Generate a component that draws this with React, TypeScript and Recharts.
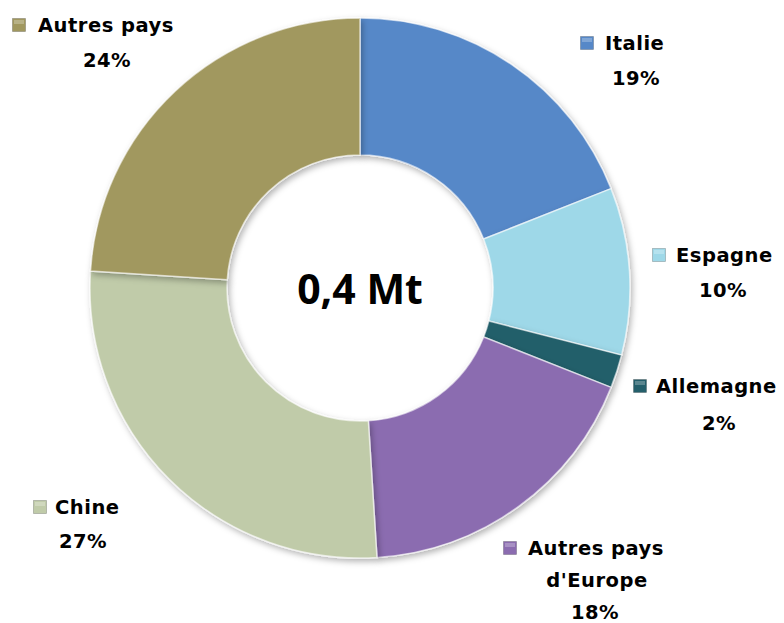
import React from "react";
import { PieChart, Pie, Cell } from "recharts";

const categories = ["Italie", "Espagne", "Allemagne", "Autres pays d'Europe", "Chine", "Autres pays"];
const shares = [19, 10, 2, 18, 27, 24];
const pctLabels = ["19%", "10%", "2%", "18%", "27%", "24%"];
const centerLabel = "0,4 Mt";

const COLORS = ["#5688C8", "#9ED8E8", "#245F6B", "#8B6CB0", "#C0CBA9", "#A1985F"];

const data = categories.map((name, i) => ({ name, value: shares[i] }));

// label layout relative to pie centre: marker centre, name start, extra lines (centre x, y)
const LABEL_LAYOUT = [
  { mx: 227, my: -245, tx: 245, lines: [{ x: 276, y: -210 }], nameLines: ["Italie"] },
  { mx: 299, my: -33, tx: 316, lines: [{ x: 363, y: 2 }], nameLines: ["Espagne"] },
  { mx: 280, my: 98, tx: 296, lines: [{ x: 359, y: 135 }], nameLines: ["Allemagne"] },
  { mx: 150, my: 260, tx: 168, lines: [{ x: 237, y: 292 }, { x: 235, y: 324 }], nameLines: ["Autres pays", "d'Europe"] },
  { mx: -320, my: 219, tx: -305, lines: [{ x: -277, y: 253 }], nameLines: ["Chine"] },
  { mx: -341, my: -263, tx: -322, lines: [{ x: -253, y: -228 }], nameLines: ["Autres pays"] },
];

const FONT = "'DejaVu Sans', sans-serif";

const renderLabel = (props: any) => {
  const { cx, cy, index } = props;
  const L = LABEL_LAYOUT[index];
  const color = COLORS[index];
  const texts: { x: number; y: number; s: string; anchor: string }[] = [];
  texts.push({ x: cx + L.tx, y: cy + L.my, s: L.nameLines[0], anchor: "start" });
  const rest = [...L.nameLines.slice(1), pctLabels[index]];
  rest.forEach((s, k) => {
    texts.push({ x: cx + L.lines[k].x, y: cy + L.lines[k].y, s, anchor: "middle" });
  });
  return (
    <g key={`lbl-${index}`}>
      <rect
        x={cx + L.mx - 6.5}
        y={cy + L.my - 6.5}
        width={13}
        height={13}
        fill={color}
        stroke="rgba(0,0,0,0.25)"
        strokeWidth={0.8}
      />
      <rect
        x={cx + L.mx - 5}
        y={cy + L.my - 5}
        width={10}
        height={4}
        fill="rgba(255,255,255,0.25)"
      />
      {texts.map((t, k) => (
        <text
          key={k}
          x={t.x}
          y={t.y}
          textAnchor={t.anchor as any}
          dominantBaseline="central"
          fontFamily={FONT}
          fontWeight={700}
          fontSize={19.5}
          letterSpacing={0.5}
          fill="#000"
        >
          {t.s}
        </text>
      ))}
    </g>
  );
};

export default function App() {
  return (
    <div style={{ width: 776, height: 615, background: "#fff" }}>
      <PieChart width={776} height={615} margin={{ top: 0, right: 0, bottom: 0, left: 0 }}>
        <defs>
          <filter id="shadow" x="-20%" y="-20%" width="140%" height="140%">
            <feDropShadow dx="2" dy="3" stdDeviation="3" floodColor="#000" floodOpacity="0.3" />
          </filter>
        </defs>
        <Pie
          data={data}
          dataKey="value"
          nameKey="name"
          cx={352}
          cy={280}
          innerRadius={133}
          outerRadius={270}
          startAngle={90}
          endAngle={-270}
          stroke="rgba(255,255,255,0.6)"
          strokeWidth={1.5}
          label={renderLabel}
          labelLine={false}
          isAnimationActive={false}
          style={{ filter: "url(#shadow)" }}
        >
          {data.map((d, i) => (
            <Cell key={d.name} fill={COLORS[i]} />
          ))}
        </Pie>
        <text
          x={352}
          y={280}
          textAnchor="middle"
          dominantBaseline="central"
          fontFamily="'Open Sans', sans-serif"
          fontWeight={700}
          fontSize={41}
          fill="#000"
        >
          {centerLabel}
        </text>
      </PieChart>
    </div>
  );
}
